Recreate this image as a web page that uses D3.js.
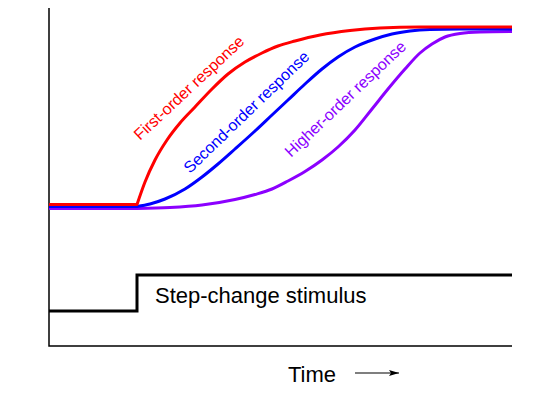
<!DOCTYPE html>
<html>
<head>
<meta charset="utf-8">
<script src="https://cdn.jsdelivr.net/npm/d3@7"></script>
<style>
  body { margin: 0; background: #fff; }
  text { font-family: "Liberation Sans", Arial, sans-serif; }
</style>
</head>
<body>
<div id="chart"></div>
<script>
// time / level readings (time from left axis, level up from bottom axis)
var firstOrder = [[0,141.5],[88,141.5],[96,164],[106,186],[118,206],[131,223],[146,239],[163,257],[179,272],[196,284],[213,293],[229,300],[246,305],[271,311],[301,315.5],[331,318],[371,319],[463,319]];
var secondOrder = [[0,139.5],[88,139.5],[101,142],[116,147],[136,157],[153,169],[169,182],[186,197],[206,215],[223,231],[239,246],[256,262],[273,277],[289,289],[306,299],[326,307],[343,312],[361,315],[381,316.5],[411,317],[463,317]];
var higherOrder = [[0,137.5],[88,137.5],[121,138.5],[153,141],[186,146.5],[206,151.5],[223,157],[239,165],[256,174.5],[273,186],[289,199],[306,216],[323,237],[339,257],[356,277],[371,293],[383,302],[396,309],[411,312.5],[431,314],[463,314.5]];
var stimulus = [[0,35],[88,35],[88,71],[463,71]];

var labels = ["First-order response", "Second-order response", "Higher-order response"];
var colours = ["#ff0000", "#0000ff", "#8c00ff"];
var stimulusLabel = "Step-change stimulus";
var axisLabel = "Time";

var width = 553, height = 396;

var svg = d3.select("#chart").append("svg")
    .attr("width", width)
    .attr("height", height);

var x = d3.scaleLinear().domain([0, 463]).range([49, 512]);
var y = d3.scaleLinear().domain([0, 338]).range([346, 8]);

var flat = d3.line()
    .x(d => x(d[0]))
    .y(d => y(d[1]));

var smooth = d3.line()
    .x(d => x(d[0]))
    .y(d => y(d[1]))
    .curve(d3.curveMonotoneX);

//straight run up to the step, then the smooth rise (keeps the corner sharp)
function responsePath(s) {
    return flat(s.slice(0, 2)) + smooth(s.slice(1)).replace(/^M[^A-Za-z]*/, "");
}

//axes: plain lines, no ticks
svg.append("path")
    .attr("d", "M" + x(0) + "," + y(338) + "V" + y(0) + "H" + x(463))
    .attr("fill", "none")
    .attr("stroke", "#000")
    .attr("stroke-width", 1.5);

//stimulus step
svg.append("path")
    .attr("d", flat(stimulus))
    .attr("fill", "none")
    .attr("stroke", "#000")
    .attr("stroke-width", 3);

svg.append("text")
    .attr("x", 155)
    .attr("y", 303)
    .attr("font-size", 22)
    .text(stimulusLabel);

//responses, purple drawn first so red sits on top
var series = [firstOrder, secondOrder, higherOrder];
[2, 1, 0].forEach(function(i) {
    svg.append("path")
        .attr("d", responsePath(series[i]))
        .attr("fill", "none")
        .attr("stroke", colours[i])
        .attr("stroke-width", 3)
        .attr("stroke-linejoin", "round");
});

var labelPos = [[140, 141, -43], [190, 174, -44], [291, 158, -43.5]];
labels.forEach(function(l, i) {
    svg.append("text")
        .attr("transform", "translate(" + labelPos[i][0] + "," + labelPos[i][1] + ") rotate(" + labelPos[i][2] + ")")
        .attr("font-size", 16)
        .attr("fill", colours[i])
        .text(l);
});

//x axis label with arrow
svg.append("text")
    .attr("x", 288)
    .attr("y", 382)
    .attr("font-size", 22)
    .text(axisLabel);

svg.append("defs").append("marker")
    .attr("id", "arrow")
    .attr("viewBox", "0 0 10 6")
    .attr("refX", 10).attr("refY", 3)
    .attr("markerWidth", 11).attr("markerHeight", 6)
    .attr("markerUnits", "userSpaceOnUse")
    .attr("orient", "auto")
    .append("path")
    .attr("d", "M0,0L10,3L0,6L2,3Z")
    .attr("fill", "#000");

svg.append("line")
    .attr("x1", 355).attr("y1", 373)
    .attr("x2", 399).attr("y2", 373)
    .attr("stroke", "#000")
    .attr("stroke-width", 1.2)
    .attr("marker-end", "url(#arrow)");
</script>
</body>
</html>
